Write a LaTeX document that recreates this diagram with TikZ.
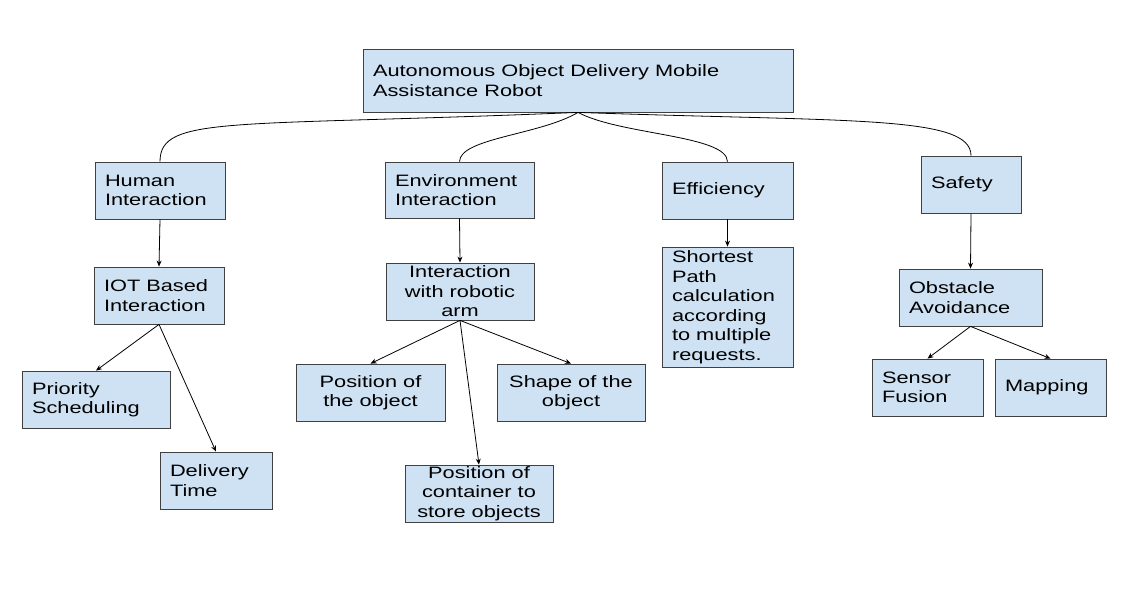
\documentclass[tikz,border=0pt]{standalone}
\usepackage{fontspec}
\setmainfont[FakeStretch=1.32]{Liberation Sans}
\usepackage{tikz}
\usetikzlibrary{arrows.meta}
\definecolor{boxblue}{HTML}{CFE2F3}
\tikzstyle{block} = [draw=black!75, fill=boxblue, rectangle, line width=0.8pt, inner xsep=10pt, inner ysep=0pt, minimum height=57pt, font=\fontsize{16.5}{19.5}\selectfont]

\begin{document}
\begin{tikzpicture}[x=1pt, y=-1pt, >={Stealth[length=6pt,width=5pt]}, line width=0.8pt]
	\useasboundingbox (0,0) rectangle (1147,604);

	% top level
	\node (ROOT) [block, minimum height=63pt] at (578,80.5) {\parbox[c]{410pt}{Autonomous Object Delivery Mobile\\Assistance Robot}};
	\node (HUMAN) [block] at (160,190.5) {\parbox[c]{110pt}{Human\\Interaction}};
	\node (ENV_INT) [block, minimum height=56pt] at (459.5,190) {\parbox[c]{129pt}{Environment\\Interaction}};
	\node (EFF) [block] at (727.5,190.5) {\parbox[c]{111pt}{Efficiency}};
	\node (SAFETY) [block] at (971,184.5) {\parbox[c]{80pt}{Safety}};

	% second level
	\node (IOT) [block] at (159,295.5) {\parbox[c]{110pt}{IOT Based\\Interaction}};
	\node (ARM) [block] at (460,291.5) {\parbox[c]{128pt}{\centering Interaction\\with robotic\\arm}};
	\node (SHORTEST) [block, minimum height=120pt] at (727.5,307) {\parbox[c]{111pt}{Shortest\\Path\\calculation\\according\\to multiple\\requests.}};
	\node (OBSTACLE) [block] at (970.5,297.5) {\parbox[c]{123pt}{Obstacle\\Avoidance}};

	% third level
	\node (PRIORITY) [block] at (96,399.5) {\parbox[c]{128pt}{Priority\\Scheduling}};
	\node (DELIVERY) [block] at (216,480.5) {\parbox[c]{92pt}{Delivery\\Time}};
	\node (POS_OBJ) [block] at (370.5,392.5) {\parbox[c]{129pt}{\centering Position of\\the object}};
	\node (SHAPE_OBJ) [block] at (571,392.5) {\parbox[c]{128pt}{\centering Shape of the\\object}};
	\node (POS_CONT) [block] at (479,493.5) {\parbox[c]{128pt}{\centering Position of\\container to\\store objects}};
	\node (SENSOR) [block] at (927.5,387.5) {\parbox[c]{91pt}{Sensor\\Fusion}};
	\node (MAPPING) [block] at (1050.5,387.5) {\parbox[c]{91pt}{Mapping}};

	% curved links from the root
	\draw (ROOT.south) .. controls (230,127) and (160,115) .. (HUMAN.north);
	\draw (ROOT.south) .. controls (540,135) and (460,138) .. (ENV_INT.north);
	\draw (ROOT.south) .. controls (620,135) and (727,135) .. (EFF.north);
	\draw (ROOT.south) .. controls (850,122) and (971,115) .. (SAFETY.north);

	\draw[->] (HUMAN.south) -- (IOT.north);
	\draw[->] (IOT.south) -- (PRIORITY.north);
	\draw[->] (IOT.south) -- (DELIVERY.north);
	\draw[->] (ENV_INT.south) -- (ARM.north);
	\draw[->] (ARM.south) -- (POS_OBJ.north);
	\draw[->] (ARM.south) -- (SHAPE_OBJ.north);
	\draw[->] (ARM.south) -- (POS_CONT.north);
	\draw[->] (EFF.south) -- (SHORTEST.north);
	\draw[->] (SAFETY.south) -- (OBSTACLE.north);
	\draw[->] (OBSTACLE.south) -- (SENSOR.north);
	\draw[->] (OBSTACLE.south) -- (MAPPING.north);
\end{tikzpicture}
\end{document}
